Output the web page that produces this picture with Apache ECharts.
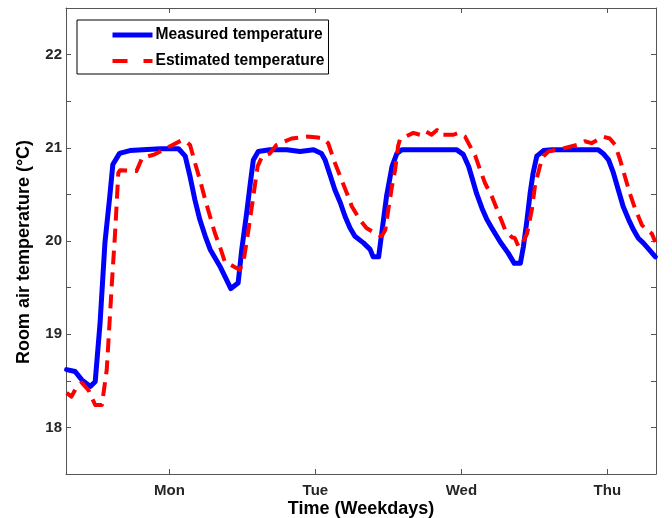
<!DOCTYPE html>
<html><head><meta charset="utf-8">
<script src="https://cdn.jsdelivr.net/npm/echarts@6/dist/echarts.min.js"></script>
<style>html,body{margin:0;padding:0;background:#fff}#c{width:672px;height:518px}</style>
</head><body><div id="c"></div>
<script>
// time in hours from Sunday 00:00 (Mon = 24)
const measuredHours = [7.1, 8.5, 9.6, 11.0, 11.8, 12.6, 13.4, 14.2, 14.7, 15.8, 17.5, 22.5, 25.5, 26.6, 27.4, 28.2, 29.0, 29.9, 30.7, 32.3, 34.1, 35.3, 35.9, 36.7, 37.3, 37.8, 38.6, 40.5, 43.3, 45.5, 47.7, 49.0, 49.6, 50.4, 51.2, 52.1, 52.9, 53.7, 54.5, 55.9, 57.0, 57.5, 58.4, 58.9, 59.7, 60.6, 61.4, 62.2, 71.2, 72.3, 73.2, 73.7, 74.5, 75.4, 76.2, 77.0, 78.4, 79.7, 80.7, 81.7, 82.2, 82.8, 83.3, 83.8, 84.4, 85.5, 86.9, 94.5, 95.3, 96.2, 97.0, 97.8, 98.6, 99.5, 100.3, 101.1, 101.9, 102.7, 103.9];
const measuredTemp  = [18.62, 18.60, 18.51, 18.44, 18.49, 19.12, 19.98, 20.48, 20.82, 20.94, 20.97, 20.99, 20.99, 20.91, 20.69, 20.44, 20.23, 20.05, 19.91, 19.73, 19.49, 19.55, 19.91, 20.30, 20.62, 20.87, 20.96, 20.98, 20.98, 20.96, 20.98, 20.94, 20.87, 20.71, 20.55, 20.41, 20.26, 20.14, 20.05, 19.98, 19.91, 19.83, 19.83, 20.08, 20.48, 20.80, 20.94, 20.98, 20.98, 20.93, 20.80, 20.69, 20.51, 20.35, 20.23, 20.14, 19.99, 19.87, 19.76, 19.76, 19.94, 20.23, 20.51, 20.73, 20.91, 20.97, 20.98, 20.98, 20.94, 20.87, 20.73, 20.55, 20.37, 20.23, 20.12, 20.03, 19.98, 19.92, 19.83];
const estimatedHours = [7.1, 7.9, 8.8, 9.6, 10.7, 11.8, 12.9, 13.7, 14.5, 15.1, 15.6, 15.9, 18.6, 19.5, 21.6, 23.6, 26.0, 26.7, 27.4, 28.2, 29.0, 29.9, 30.7, 31.5, 32.3, 33.1, 34.2, 35.6, 36.3, 37.0, 37.8, 38.5, 39.2, 40.5, 41.6, 44.1, 46.6, 48.4, 49.3, 50.1, 51.2, 52.1, 53.2, 54.0, 55.3, 56.4, 58.1, 58.9, 59.5, 60.0, 60.6, 61.1, 61.6, 61.9, 64.1, 65.2, 66.0, 67.1, 68.0, 68.5, 70.7, 71.5, 72.6, 74.3, 75.1, 75.9, 77.0, 78.1, 79.2, 80.3, 80.8, 81.4, 82.0, 82.8, 83.6, 84.1, 84.9, 85.5, 86.3, 88.5, 91.0, 92.3, 93.4, 95.3, 96.4, 97.3, 98.1, 98.9, 99.7, 100.6, 101.7, 102.5, 103.3, 103.9];
const estimatedTemp  = [18.37, 18.33, 18.44, 18.48, 18.40, 18.24, 18.24, 18.62, 19.50, 20.12, 20.73, 20.76, 20.75, 20.89, 20.93, 21.00, 21.08, 21.07, 21.03, 20.84, 20.66, 20.44, 20.26, 20.08, 19.94, 19.78, 19.74, 19.69, 19.83, 20.12, 20.48, 20.80, 20.90, 20.94, 21.03, 21.10, 21.12, 21.11, 21.10, 21.05, 20.84, 20.69, 20.51, 20.37, 20.23, 20.14, 20.07, 20.05, 20.12, 20.34, 20.59, 20.76, 21.02, 21.09, 21.16, 21.14, 21.18, 21.14, 21.19, 21.14, 21.14, 21.16, 21.12, 20.91, 20.76, 20.62, 20.48, 20.30, 20.12, 20.04, 20.03, 19.94, 19.97, 20.08, 20.34, 20.59, 20.80, 20.91, 20.96, 20.99, 21.03, 21.07, 21.05, 21.12, 21.10, 21.03, 20.87, 20.69, 20.51, 20.34, 20.17, 20.12, 20.08, 19.99];
const dayTickHours = [24, 48, 72, 96];
const dayLabels = ['Mon', 'Tue', 'Wed', 'Thu'];
const tempTickValues = [18, 18.5, 19, 19.5, 20, 20.5, 21, 21.5, 22];
const tempLabelValues = [18, 19, 20, 21, 22];

const FONT = 'Liberation Sans';
const axisColor = '#555';
const chart = echarts.init(document.getElementById('c'), null, {renderer: 'canvas'});

const xBase = {
  type: 'value', min: 7, max: 104,
  axisLine: {show: true, lineStyle: {color: axisColor, width: 1}},
  axisTick: {show: true, inside: true, length: 5, customValues: dayTickHours, lineStyle: {color: axisColor}},
  splitLine: {show: false}
};
const yBase = {
  type: 'value', min: 17.5, max: 22.5,
  axisLine: {show: true, lineStyle: {color: axisColor, width: 1}},
  axisTick: {show: true, inside: true, length: 5, customValues: tempTickValues, lineStyle: {color: axisColor}},
  splitLine: {show: false}
};

const measuredStyle = {color: '#0000ff', width: 5, join: 'round', cap: 'round'};
const estimatedStyle = {color: '#ff0000', width: 4, type: [14, 8], join: 'round'};

chart.setOption({
  animation: false,
  backgroundColor: '#fff',
  grid: {left: 66, right: 16, top: 8, bottom: 44, containLabel: false, outerBoundsMode: 'none'},
  xAxis: [
    Object.assign({}, xBase, {
      position: 'bottom',
      name: 'Time (Weekdays)', nameLocation: 'middle', nameGap: 26, nameMoveOverlap: false,
      nameTextStyle: {fontFamily: FONT, fontWeight: 'bold', fontSize: 18, color: '#000'},
      axisLabel: {show: true, customValues: dayTickHours, margin: 9,
        formatter: v => dayLabels[dayTickHours.indexOf(v)] || '',
        fontFamily: FONT, fontWeight: 'bold', fontSize: 15, color: '#262626'}
    }),
    Object.assign({}, xBase, {position: 'top', axisLabel: {show: false}})
  ],
  yAxis: [
    Object.assign({}, yBase, {
      position: 'left',
      name: 'Room air temperature (°C)', nameLocation: 'middle', nameGap: 33, nameRotate: 90,
      nameTextStyle: {fontFamily: FONT, fontWeight: 'bold', fontSize: 18, color: '#000', padding: [0, 22, 0, 0]},
      axisLabel: {show: true, customValues: tempLabelValues, margin: 4,
        fontFamily: FONT, fontWeight: 'bold', fontSize: 15, color: '#262626'}
    }),
    Object.assign({}, yBase, {position: 'right', axisLabel: {show: false}})
  ],
  legend: {
    left: 77, top: 20, orient: 'vertical',
    borderColor: '#000', borderWidth: 1, borderRadius: 0,
    padding: [7, 4, 5, 33], itemGap: 10, itemWidth: 40, itemHeight: 14,
    backgroundColor: '#fff',
    itemStyle: {opacity: 0},
    textStyle: {fontFamily: FONT, fontWeight: 'bold', fontSize: 15.6, color: '#000', padding: [0, 0, 0, -2]},
    data: [
      {name: 'Measured temperature', lineStyle: {width: 5, color: '#0000ff', cap: 'butt'}},
      {name: 'Estimated temperature', lineStyle: {width: 4, color: '#ff0000', type: [15, 16]}}
    ]
  },
  series: [
    {
      name: 'Measured temperature', type: 'line', xAxisIndex: 0, yAxisIndex: 0,
      data: measuredHours.map((h, i) => [h, measuredTemp[i]]),
      showSymbol: false, symbol: 'none', smooth: false,
      lineStyle: measuredStyle, itemStyle: {color: '#0000ff'}, z: 2
    },
    {
      name: 'Estimated temperature', type: 'line', xAxisIndex: 0, yAxisIndex: 0,
      data: estimatedHours.map((h, i) => [h, estimatedTemp[i]]),
      showSymbol: false, symbol: 'none', smooth: false,
      lineStyle: estimatedStyle, itemStyle: {color: '#ff0000'}, z: 3
    }
  ]
});
</script>
</body></html>
